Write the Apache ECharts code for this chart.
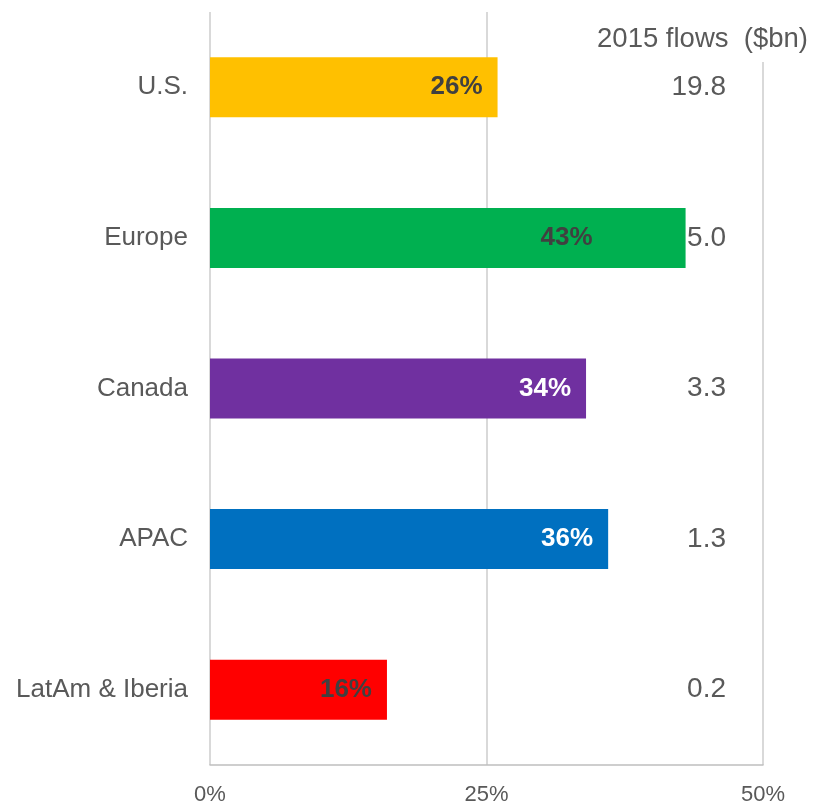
<!DOCTYPE html>
<html>
<head>
<meta charset="utf-8">
<script src="https://cdn.jsdelivr.net/npm/echarts@6/dist/echarts.min.js"></script>
<style>
  html, body { margin: 0; padding: 0; background: #fff; }
  #chart { width: 813px; height: 803px; }
</style>
</head>
<body>
<div id="chart"></div>
<script>
// regions, top to bottom
var regions = ["U.S.", "Europe", "Canada", "APAC", "LatAm & Iberia"];
// share of flows (%)
var shares = [26, 43, 34, 36, 16];
// 2015 flows, $bn
var flows = ["19.8", "5.0", "3.3", "1.3", "0.2"];
var barColors = ["#FFC000", "#00B050", "#7030A0", "#0070C0", "#FF0000"];
var labelColors = ["#404040", "#404040", "#ffffff", "#ffffff", "#404040"];
var xTicks = [0, 25, 50];

var chart = echarts.init(document.getElementById("chart"));

var seriesData = shares.map(function (v, i) {
  var item = {
    value: v,
    itemStyle: { color: barColors[i] },
    label: { color: labelColors[i] }
  };
  // the Europe label sits further in from the bar end
  if (i === 1) item.label.offset = [-78, 0];
  return item;
});

chart.setOption({
  animation: false,
  textStyle: { fontFamily: "Liberation Sans, Arial, sans-serif" },
  title: {
    text: "2015 flows  ($bn)",
    right: 3,
    top: 8,
    padding: [17, 2, 9, 6],
    backgroundColor: "#ffffff",
    textStyle: { fontSize: 27.5, fontWeight: "normal", color: "#595959" }
  },
  grid: {
    left: 210, right: 50, top: 12, bottom: 38,
    containLabel: false, outerBoundsMode: "none"
  },
  xAxis: {
    type: "value",
    min: xTicks[0],
    max: xTicks[xTicks.length - 1],
    interval: 25,
    axisLine: { show: true, lineStyle: { color: "#bfbfbf", width: 1.5 } },
    axisTick: { show: false },
    splitLine: { show: true, lineStyle: { color: "#d9d9d9", width: 2 } },
    axisLabel: {
      margin: 19,
      fontSize: 22,
      color: "#595959",
      formatter: "{value}%"
    }
  },
  yAxis: [
    {
      type: "category",
      inverse: true,
      data: regions,
      axisLine: { show: false },
      axisTick: { show: false },
      axisLabel: { margin: 22, fontSize: 26, color: "#595959" }
    },
    {
      type: "category",
      inverse: true,
      position: "right",
      offset: -37,
      data: flows,
      axisLine: { show: false },
      axisTick: { show: false },
      axisLabel: { margin: 0, align: "right", fontSize: 28, color: "#595959" }
    }
  ],
  series: [
    {
      type: "bar",
      yAxisIndex: 0,
      barWidth: 60,
      data: seriesData,
      label: {
        show: true,
        position: "insideRight",
        distance: 15,
        fontSize: 26,
        fontWeight: "bold",
        formatter: "{c}%"
      }
    }
  ]
});
</script>
</body>
</html>
